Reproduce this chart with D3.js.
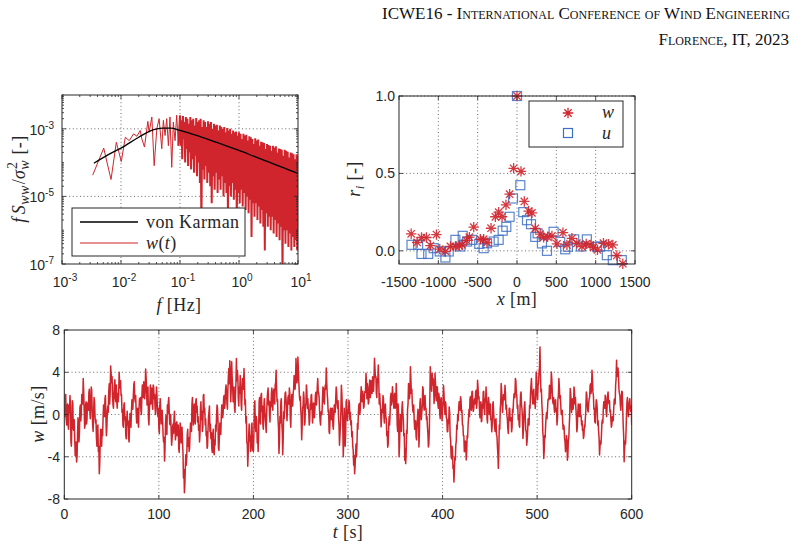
<!DOCTYPE html>
<meta charset="utf-8">
<style>
  body { margin: 0; background: #fff; }
  svg { display: block; }
  .tick-label { font-family: "Liberation Sans", Arial, sans-serif; font-size: 14px; fill: #262626; }
  .math { font-family: "Liberation Serif", "Times New Roman", serif; font-size: 18px; letter-spacing: 0.4px; fill: #262626; }
  .hdr { font-family: "Liberation Serif", "Times New Roman", serif; font-size: 17px; font-variant: small-caps; fill: #111; }
</style>
<script src="https://d3js.org/d3.v7.min.js"></script>
<div id="chart"></div>
<script>
// ---- spectrum of w : low frequencies (log10 f, log10 fS/sigma^2) ----
var specLowLogF = [-2.479,-2.293,-2.169,-2.079,-1.995,-1.927,-1.86,-1.787,-1.73,-1.675,-1.646,-1.602,-1.545,-1.523,-1.477,
  -1.438,-1.393,-1.354,-1.309,-1.282,-1.253,-1.225,-1.197,-1.17,-1.14,-1.113,-1.084,-1.056,-1.028];
var specLowLogS = [-4.37,-3.57,-4.50,-3.40,-3.97,-3.25,-3.35,-3.15,-3.22,-3.05,-3.30,-3.54,-2.78,-3.10,-2.65,
  -4.09,-3.00,-2.70,-3.59,-2.75,-3.20,-2.70,-3.50,-2.65,-4.14,-2.80,-3.35,-2.60,-3.50];
// dense part, sampled every 0.0125 decade from 0.1 Hz to 10 Hz
var specBandLogF0 = -1, specBandStep = 0.0125;
var specBandLogS = [
  -2.6,-3.5,-2.75,-3.9,-2.62,-3.3,-2.8,-4.0,-2.65,-3.6,-2.7,-4.1,-2.85,-3.7,-2.65,-4.2,-2.75,-3.9,-2.7,-4.3,
  -2.9,-3.8,-2.68,-4.4,-2.8,-4.0,-2.75,-4.6,-2.7,-5.9,-2.95,-4.2,-2.75,-4.5,-2.8,-4.1,-2.95,-4.6,-2.78,-4.3,
  -2.85,-4.7,-2.8,-5.2,-3.0,-4.4,-2.85,-4.8,-2.9,-4.3,-2.88,-4.9,-3.05,-4.5,-2.9,-4.8,-2.95,-4.4,-3.0,-5.0,
  -2.95,-4.6,-3.1,-4.9,-2.98,-5.5,-3.05,-4.7,-3.0,-5.0,-3.15,-4.6,-3.05,-5.1,-3.1,-4.8,-3.08,-5.7,-3.2,-4.9,
  -3.1,-5.2,-3.15,-4.8,-3.3,-5.3,-3.15,-4.9,-3.2,-5.4,-3.18,-5.0,-3.35,-5.5,-3.22,-5.1,-3.25,-6.2,-3.3,-5.2,
  -3.45,-5.6,-3.28,-5.2,-3.35,-5.7,-3.32,-5.3,-3.5,-5.8,-3.38,-5.4,-3.4,-5.9,-3.42,-6.6,-3.6,-5.5,-3.45,-5.9,
  -3.48,-5.6,-3.5,-6.0,-3.65,-5.6,-3.5,-6.1,-3.55,-5.7,-3.52,-6.2,-3.7,-5.8,-3.58,-6.3,-3.6,-5.9,-3.62,-7.4,
  -3.8,-6.0,-3.62,-6.4,-3.65,-6.0,-3.68,-6.5,-3.85,-6.1,-3.7,-6.6,-3.72,-6.2,-3.75,-6.5,-3.9,-6.3,-3.75,-6.6,
  -3.8];
// von Karman model
var karmanLogF = [-2.46,-2.2,-2.0,-1.7,-1.5,-1.3,-1.15,-1.0,-0.75,-0.5,-0.25,0,0.25,0.5,0.75,1.0];
var karmanLogS = [-4.02,-3.75,-3.57,-3.25,-3.06,-2.98,-2.98,-3.05,-3.18,-3.33,-3.48,-3.64,-3.81,-3.98,-4.15,-4.32];

// ---- correlation coefficients vs separation ----
var corrXw = [-1345,-1269,-1214,-1151,-1100,-1024,-982,-910,-846,-783,-732,-698,-643,-605,-550,-466,-424,-381,-330,-275,
  -233,-190,-140,-94,-43,0,51,93,148,190,232,296,338,389,444,508,584,635,698,761,825,880,930,973,1023,1099,1163,1218,1269,1345];
var corrRw = [0.110,0.054,0.086,0.086,0.034,0.105,0.011,-0.004,0.028,0.028,0.032,0.039,0.067,0.088,0.153,0.075,0.075,0.054,0.146,0.22,
  0.25,0.22,0.297,0.366,0.533,1.0,0.513,0.319,0.257,0.245,0.145,0.108,0.087,0.091,0.096,0.045,0.117,0.038,0.081,0.049,
  0.028,0.045,0.038,0.023,0.006,0.049,0.043,0.038,-0.03,-0.083];
var corrXu = [-1341,-1257,-1214,-1129,-1058,-982,-910,-868,-783,-719,-690,-634,-571,-480,-424,-381,-297,-233,-182,-136,
  -94,-51,0,42,80,127,178,232,262,317,381,465,550,613,647,727,812,888,1015,1057,1142,1218,1332];
var corrRu = [0.039,0.039,-0.02,-0.02,0.017,-0.004,-0.043,-0.004,0.071,0.028,0.097,0.06,0.071,0.045,0.017,0.049,0.06,0.071,0.13,0.155,
  0.22,0.338,1.0,0.424,0.25,0.198,0.172,0.09,0.113,0.048,0.0,0.123,0.058,0.01,0.026,0.074,0.028,0.074,0.026,0.028,-0.028,-0.06,-0.06];

// ---- vertical wind w(t) [m/s]: values at whole seconds 0..600 ----
var windT0 = 0, windDt = 1;
var windW = [
  0.5,1.8,-0.4,0.6,-1.0,0.9,1.8,-2.6,-0.8,1.0,-1.5,-2.2,-3.5,-4.5,-2.0,-1.0,-1.8,0.9,0.2,1.5,
  3.4,0.5,-1.0,1.2,-0.5,0.6,2.1,0.3,1.0,2.3,-1.0,0.2,1.2,-0.8,-2.3,-1.2,-3.5,-5.6,-2.5,-2.3,
  -1.4,-0.4,0.5,1.5,-0.3,-1.3,0.8,2.1,1.0,4.6,3.0,1.8,0.6,2.8,1.5,2.8,0.6,1.2,4.0,2.5,
  1.8,0.2,-1.0,0.9,-0.5,-1.95,-0.6,-1.0,-2.3,-1.1,-0.4,0.3,0.9,1.8,3.1,1.2,0.25,-0.2,-0.7,0.5,
  1.2,0.4,1.6,2.1,3.1,1.5,4.3,2.2,2.1,-0.4,0.5,2.8,1.7,1.2,2.8,1.5,0.6,1.3,1.8,-0.2,
  -1.3,0.8,0.25,-0.3,-0.7,-2.6,-4.4,-1.0,-1.6,0.9,1.2,0.2,-1.0,-1.6,-2.3,-0.9,-0.4,-1.2,-1.95,-0.7,
  -1.4,-3.2,-2.0,-1.3,-1.9,-2.6,-6.0,-7.4,-5.0,-4.8,-1.95,-3.0,-3.5,-1.8,-1.0,1.0,0.0,0.25,-0.6,1.2,
  0.2,-0.7,-1.5,-2.6,0.6,-0.5,-1.6,1.8,0.2,-1.0,-2.0,-3.2,-1.4,0.25,-1.6,-2.3,-3.2,-2.0,-3.5,-2.4,
  -1.0,-0.2,0.6,-3.2,-2.0,-1.0,-0.3,0.9,0.2,1.8,1.0,2.8,1.0,2.4,4.35,5.1,1.2,5.0,2.8,2.1,
  0.6,1.8,5.3,4.2,1.5,2.6,3.7,1.0,2.1,3.2,4.35,0.9,-0.8,-2.6,-4.9,-1.95,-2.5,-3.5,-1.0,-3.4,
  -3.5,0.9,-1.0,-0.2,-2.7,-3.5,1.2,-0.5,1.8,0.3,-1.0,0.6,0.57,-1.0,0.2,2.1,0.9,-0.06,1.2,1.98,
  1.0,1.98,1.2,2.8,4.2,1.2,-0.5,-3.7,-0.2,1.2,-0.8,-3.8,0.25,1.0,2.14,0.4,0.57,1.8,2.5,-0.4,
  0.9,1.2,2.0,3.7,2.4,5.3,3.0,5.45,3.1,1.35,0.5,-2.4,0.6,2.14,-1.0,0.9,2.8,0.6,0.57,-1.0,
  1.0,1.8,0.5,-0.06,0.9,0.6,2.1,1.4,3.4,2.0,0.25,-1.0,0.3,1.5,2.5,1.0,2.8,4.4,2.0,0.25,
  -1.64,-0.5,0.57,0.2,-1.0,-0.2,0.88,1.5,2.14,0.6,-0.3,-2.9,-1.0,2.77,0.5,-4.0,0.6,-3.0,1.2,0.3,
  0.4,1.36,-0.5,-1.0,-2.1,-3.0,-4.8,-5.6,-3.7,-4.0,-0.85,0.2,1.04,0.5,2.63,1.2,1.68,0.8,2.2,3.9,
  1.5,2.31,1.2,3.26,2.0,2.5,3.58,2.2,5.32,3.5,2.0,3.4,4.68,1.0,1.04,-1.17,0.5,1.8,-0.22,0.6,
  -0.22,-2.0,-3.1,-1.17,-1.0,1.68,0.9,2.63,1.5,1.68,0.6,2.94,-1.0,1.0,-4.0,-1.0,-1.49,0.5,0.09,-2.0,
  -4.34,-4.65,-1.5,0.5,2.94,1.5,4.53,2.0,1.04,0.2,-0.54,-1.0,-2.12,-1.2,0.5,-3.07,1.04,0.3,0.09,2.63,
  1.0,1.68,0.5,-0.5,-1.17,-3.07,-1.5,4.53,2.5,3.9,3.42,1.04,3.9,2.0,2.63,1.04,2.0,0.09,1.36,0.5,
  0.5,2.77,0.8,1.2,-0.3,-1.64,-0.5,0.72,-2.0,-3.84,-3.0,-5.1,-6.4,-4.0,-2.9,-1.0,0.0,0.5,1.2,1.67,
  0.2,-1.0,-2.0,-3.53,-2.5,-4.3,-2.0,-1.0,0.5,1.5,0.6,2.14,0.8,0.57,1.5,2.14,0.6,3.24,1.5,0.57,
  1.0,-0.69,1.0,2.14,0.6,1.5,2.61,-0.38,0.8,1.2,0.5,-0.5,-1.64,0.88,0.2,-1.0,-0.5,-1.95,-3.0,-5.1,
  -1.0,0.5,2.93,1.0,1.2,1.8,2.77,0.5,-0.06,-1.32,-0.5,0.57,-0.5,-1.64,0.5,1.2,2.0,3.4,2.0,0.57,
  -0.5,-1.0,0.8,2.14,0.5,-2.27,0.0,1.2,-1.5,-2.9,-1.5,-1.0,0.88,2.0,3.4,1.5,2.14,1.0,0.57,4.03,
  2.0,2.77,4.0,6.39,2.14,1.0,-1.64,-4.16,-2.0,-1.0,0.2,0.57,1.5,2.77,1.5,4.03,2.14,1.0,0.57,1.2,
  0.3,-1.0,1.5,3.4,1.5,0.88,0.0,-0.69,-1.0,-2.27,-3.53,-2.0,-4.32,-2.5,-1.0,2.46,1.0,1.2,0.5,2.61,
  1.0,0.57,-1.64,0.2,0.5,0.88,-0.2,-1.0,-1.5,-2.27,-1.0,-0.38,2.14,1.0,0.25,1.5,2.77,2.0,4.19,2.14,
  0.5,-0.69,0.5,1.2,-1.0,-1.64,-3.84,-2.5,-1.95,-0.5,0.57,0.9,1.83,0.25,0.8,2.14,1.0,0.25,-0.5,-1.0,
  -0.2,0.57,1.5,2.77,5.13,4.0,3.72,2.0,0.88,1.5,2.14,-1.0,-4.47,-2.5,-1.64,1.2,0.5,0.57,1.5,0.3,
  -1.0];
// values at the half seconds 0.5..599.5 (the fast fluctuation between the samples above)
var windWHalf = [
  -0.2,1.9,-1.0,1.0,-1.4,0.2,0.9,-3.0,1.3,-1.4,-0.5,-3.9,-2.6,-4.0,-0.3,-2.6,0.6,-0.6,1.9,1.0,
  2.2,-1.3,0.9,-0.9,1.1,0.4,2.4,-0.4,2.6,0.2,-1.6,1.6,-0.2,-0.5,-3.0,-1.0,-3.0,-4.6,-1.4,-3.0,
  -2.0,0.9,-0.2,1.8,-2.0,0.3,0.2,2.9,2.0,3.9,3.6,0.9,2.0,3.3,1.2,1.2,2.0,1.9,3.0,3.2,
  1.9,0.5,-1.2,1.1,-0.2,-2.3,0.3,-0.6,-2.6,0.1,-1.2,1.4,0.5,2.8,1.6,1.8,-0.8,0.6,-1.2,1.5,
  1.6,0.0,2.8,1.6,2.9,2.2,3.6,0.9,2.6,-1.0,1.2,1.0,2.5,0.5,2.6,1.9,0.0,2.6,0.4,0.6,
  -1.8,1.5,-0.9,0.4,-2.0,-2.2,-3.2,-0.1,-1.9,0.1,1.6,-0.9,0.0,-2.9,-1.2,-1.8,0.3,-2.4,-0.8,-2.0,
  -1.0,-3.6,-0.8,-2.7,-1.2,-3.6,-5.2,-6.6,-3.8,-3.9,-1.4,-2.2,-3.2,-0.8,-1.6,1.6,-1.0,1.0,-0.9,1.5,
  0.8,-0.2,-1.0,-1.8,1.2,0.3,-1.2,1.9,0.6,-0.4,-1.6,-3.0,-0.2,0.8,-0.9,-1.7,-3.6,-1.4,-3.8,-2.9,
  -1.6,0.9,-0.6,-3.4,-0.8,-1.9,0.9,-0.3,1.6,0.6,2.3,2.2,0.5,3.6,2.9,3.8,2.3,3.5,1.2,2.6,
  0.2,3.0,3.2,3.6,0.8,2.0,2.9,0.4,3.4,2.4,3.0,1.4,-0.2,-2.8,-3.6,-0.9,-2.0,-2.9,-0.8,-2.0,
  -1.8,1.3,-1.6,-0.6,-2.0,-1.6,1.6,-0.9,2.0,0.8,-1.4,1.5,-0.4,-1.7,1.4,2.5,1.3,-0.7,0.7,2.5,
  0.4,2.4,1.0,3.0,2.3,1.4,-1.2,-2.6,-0.8,1.5,-1.6,-2.2,-0.4,2.0,1.4,-0.6,1.6,1.0,2.0,-1.2,
  1.9,0.8,2.4,3.4,3.0,4.0,3.4,4.3,2.0,1.7,-0.2,-1.2,0.8,1.6,-0.8,1.0,2.2,1.5,0.2,-0.6,
  0.5,1.9,-0.8,1.1,-0.3,1.8,0.9,2.6,2.2,1.6,-0.6,0.2,0.0,2.6,1.2,2.2,2.4,3.1,1.4,0.4,
  -1.8,0.6,-0.5,0.6,-1.4,0.9,0.2,2.6,1.0,1.3,-1.0,-2.0,0.4,2.0,-1.2,-2.4,-0.4,-1.8,1.4,-0.6,
  0.1,1.0,0.2,-0.6,-1.6,-3.4,-3.9,-4.9,-2.8,-2.8,-1.4,0.9,0.0,1.8,1.4,2.2,0.6,2.0,2.1,3.1,
  2.9,1.0,2.6,1.6,3.2,2.0,3.2,3.3,4.4,3.6,1.6,3.0,3.4,2.0,0.5,-0.4,0.2,1.5,-0.8,1.0,
  -0.4,-1.6,-2.8,-0.2,0.0,2.0,1.2,2.0,0.6,2.0,0.9,1.6,-1.6,0.0,-3.0,0.0,-1.6,1.2,-0.4,-1.8,
  -3.2,-3.6,-1.8,1.0,2.6,2.0,3.4,2.4,0.4,0.9,-1.4,-0.6,-2.4,-0.2,0.2,-1.8,1.5,-0.5,0.8,2.4,
  0.4,1.8,0.6,-0.2,-1.8,-2.8,1.2,3.4,2.2,2.8,2.9,1.6,3.0,1.3,2.6,0.6,1.6,-0.4,1.6,-0.6,
  1.2,2.0,0.0,1.0,-0.4,-1.6,-0.8,0.2,-2.4,-4.2,-3.4,-4.8,-5.3,-4.3,-2.5,-1.4,-0.6,1.2,0.4,1.4,
  0.4,-1.0,-2.0,-3.4,-2.6,-3.6,-2.2,-0.3,-0.2,1.7,0.4,2.2,0.3,1.4,1.0,2.3,1.2,2.6,1.7,-0.3,
  1.2,-0.6,0.6,2.2,0.0,1.2,1.6,-0.8,1.6,0.0,1.0,-0.4,-1.0,1.2,-0.6,-1.6,-0.4,-2.0,-3.8,-3.4,
  -1.4,1.2,2.2,0.2,1.9,1.4,2.0,0.9,-0.4,-1.8,0.6,-0.6,-0.3,-1.2,0.2,1.9,1.6,3.2,1.8,0.9,
  0.0,-1.2,1.9,0.9,-0.4,-1.6,0.8,-0.4,-1.6,-2.4,-0.4,-1.0,0.6,2.8,2.2,1.0,2.4,1.5,1.6,3.4,
  1.4,3.0,4.5,3.8,2.4,0.2,-2.2,-3.4,-2.2,-0.2,-0.4,1.4,1.4,2.6,2.2,3.4,1.2,1.6,0.2,1.4,
  0.6,-0.4,1.8,2.6,1.8,0.0,0.4,-1.4,-1.2,-2.6,-3.0,-2.4,-3.8,-2.2,0.0,2.0,0.2,1.5,1.0,2.2,
  1.6,-0.2,-1.2,1.0,-0.2,1.0,-0.1,-0.6,-1.4,-2.0,-1.2,0.4,1.9,0.4,1.0,1.6,2.9,2.4,3.5,1.8,
  0.6,-0.8,1.4,0.6,-0.6,-2.2,-3.0,-2.8,-0.8,-0.8,1.2,0.6,1.6,-0.2,1.8,1.2,1.3,0.4,-1.2,-0.2,
  -0.6,1.4,1.0,3.4,3.6,4.4,2.4,1.8,0.4,2.2,0.6,-2.0,-3.2,-2.8,0.0,1.6,-0.2,1.2,0.6,0.8];

var red = "#d0252c", blue = "#3d6fc4", ink = "#262626";

var svg = d3.select("#chart").append("svg")
    .attr("width", 803)
    .attr("height", 550);
svg.append("rect").attr("width", 803).attr("height", 550).attr("fill", "#fff");

// header
svg.append("text").attr("class", "hdr").attr("text-anchor", "end")
  .attr("x", 790).attr("y", 19).text("ICWE16 - International Conference of Wind Engineering");
svg.append("text").attr("class", "hdr").attr("text-anchor", "end")
  .attr("x", 789).attr("y", 45).text("Florence, IT, 2023");

// helpers
function grid(xs, ys, box, xv, yv) {
  var g = svg.append("g").attr("stroke", ink).attr("stroke-width", 0.8).attr("stroke-dasharray", "1,2.6").attr("opacity", 0.85);
  g.selectAll(null).data(xv).enter().append("line")
    .attr("x1", d => xs(d)).attr("x2", d => xs(d))
    .attr("y1", box.y).attr("y2", box.y + box.h);
  g.selectAll(null).data(yv).enter().append("line")
    .attr("y1", d => ys(d)).attr("y2", d => ys(d))
    .attr("x1", box.x).attr("x2", box.x + box.w);
}
function ticks(xs, ys, box, xv, yv, len) {
  var g = svg.append("g").attr("stroke", ink).attr("stroke-width", 0.8);
  [box.y + box.h, box.y].forEach(function(y0, k) {
    g.selectAll(null).data(xv).enter().append("line")
      .attr("x1", d => xs(d)).attr("x2", d => xs(d))
      .attr("y1", y0).attr("y2", k ? y0 + len : y0 - len);
  });
  [box.x, box.x + box.w].forEach(function(x0, k) {
    g.selectAll(null).data(yv).enter().append("line")
      .attr("y1", d => ys(d)).attr("y2", d => ys(d))
      .attr("x1", x0).attr("x2", k ? x0 - len : x0 + len);
  });
}
function frame(box) {
  svg.append("rect").attr("x", box.x).attr("y", box.y).attr("width", box.w).attr("height", box.h)
    .attr("fill", "none").attr("stroke", ink).attr("stroke-width", 1);
}
function clip(id, box) {
  svg.append("clipPath").attr("id", id).append("rect")
    .attr("x", box.x).attr("y", box.y).attr("width", box.w).attr("height", box.h);
}
function pow10Label(sel, e) {
  sel.append("tspan").text("10");
  sel.append("tspan").attr("dy", -6).attr("font-size", "10px").text(e);
}

// ================= spectrum panel =================
var b1 = {x: 62, y: 95, w: 236, h: 169};
var x1 = d3.scaleLog().domain([1e-3, 1e1]).range([b1.x, b1.x + b1.w]);
var y1 = d3.scaleLog().domain([1e-7, 1e-2]).range([b1.y + b1.h, b1.y]);

var specLow = specLowLogF.map((lf, i) => ({f: Math.pow(10, lf), s: Math.pow(10, specLowLogS[i])}));
var specBand = specBandLogS.map((ls, i) => ({f: Math.pow(10, specBandLogF0 + i * specBandStep), s: Math.pow(10, ls)}));
specBand.unshift(specLow[specLow.length - 1]);
var karman = karmanLogF.map((lf, i) => ({f: Math.pow(10, lf), s: Math.pow(10, karmanLogS[i])}));
var specLine = d3.line().x(d => x1(d.f)).y(d => y1(d.s));

grid(x1, y1, b1, [1e-2, 1e-1, 1e0], [1e-5, 1e-3]);
clip("clip1", b1);
svg.append("path").datum(specLow)
  .attr("clip-path", "url(#clip1)")
  .attr("fill", "none").attr("stroke", red).attr("stroke-width", 1)
  .attr("d", specLine);
svg.append("path").datum(specBand)
  .attr("clip-path", "url(#clip1)")
  .attr("fill", "none").attr("stroke", red).attr("stroke-width", 2)
  .attr("d", specLine);
svg.append("path").datum(karman)
  .attr("fill", "none").attr("stroke", "#000").attr("stroke-width", 1.3)
  .attr("d", d3.line().curve(d3.curveMonotoneX).x(d => x1(d.f)).y(d => y1(d.s)));
frame(b1);

var decX = [1e-3, 1e-2, 1e-1, 1e0, 1e1];
var minX = [];
decX.slice(0, 4).forEach(d => { for (var k = 2; k < 10; k++) minX.push(d * k); });
var decY = [1e-7, 1e-6, 1e-5, 1e-4, 1e-3, 1e-2];
var minY = [];
decY.slice(0, 5).forEach(d => { for (var k = 2; k < 10; k++) minY.push(d * k); });
ticks(x1, y1, b1, decX, [1e-7, 1e-5, 1e-3], 4);
ticks(x1, y1, b1, minX, minY.concat([1e-6, 1e-4, 1e-2]), 2);

svg.selectAll(null).data([-3, -2, -1, 0, 1]).enter().append("text")
  .attr("class", "tick-label").attr("text-anchor", "middle")
  .attr("x", d => x1(Math.pow(10, d)) + 3).attr("y", 287)
  .each(function(d) { pow10Label(d3.select(this), d); });
svg.selectAll(null).data([-7, -5, -3]).enter().append("text")
  .attr("class", "tick-label").attr("text-anchor", "end")
  .attr("x", 54).attr("y", d => y1(Math.pow(10, d)) + 6)
  .each(function(d) { pow10Label(d3.select(this), d); });

// axis labels
var xl1 = svg.append("text").attr("class", "math").attr("text-anchor", "middle").attr("x", 179).attr("y", 311);
xl1.append("tspan").attr("font-style", "italic").text("f");
xl1.append("tspan").text(" [Hz]");
var yl1 = svg.append("text").attr("class", "math").attr("font-size", "20px").attr("letter-spacing", "1px")
  .attr("text-anchor", "middle")
  .attr("transform", "translate(25,179) rotate(-90)");
yl1.append("tspan").attr("font-style", "italic").text("f");
yl1.append("tspan").attr("font-style", "italic").attr("dx", 3).text("S");
yl1.append("tspan").attr("font-style", "italic").attr("font-size", "14px").attr("dy", 4).text("ww");
yl1.append("tspan").attr("dy", -4).attr("dx", 1).text("/");
yl1.append("tspan").attr("font-style", "italic").text("σ");
yl1.append("tspan").attr("font-style", "italic").attr("font-size", "14px").attr("dy", 4).text("w");
yl1.append("tspan").attr("font-size", "14px").attr("dx", -9).attr("dy", -12).text("2");
yl1.append("tspan").attr("dy", 8).attr("dx", 7).text("[-]");

// legend
svg.append("rect").attr("x", 72).attr("y", 208).attr("width", 173).attr("height", 48)
  .attr("fill", "#fff").attr("stroke", ink).attr("stroke-width", 1);
svg.append("line").attr("x1", 80).attr("x2", 138).attr("y1", 222).attr("y2", 222).attr("stroke", "#000").attr("stroke-width", 1.3);
svg.append("line").attr("x1", 80).attr("x2", 138).attr("y1", 243).attr("y2", 243).attr("stroke", red).attr("stroke-width", 1.1);
svg.append("text").attr("class", "math").attr("x", 146).attr("y", 228).text("von Karman");
var lw = svg.append("text").attr("class", "math").attr("x", 146).attr("y", 249);
lw.append("tspan").attr("font-style", "italic").text("w");
lw.append("tspan").text("(");
lw.append("tspan").attr("font-style", "italic").text("t");
lw.append("tspan").text(")");

// ================= correlation panel =================
var b2 = {x: 399, y: 96, w: 236, h: 168};
var x2 = d3.scaleLinear().domain([-1500, 1500]).range([b2.x, b2.x + b2.w]);
var y2 = d3.scaleLinear().domain([-0.085, 1]).range([b2.y + b2.h, b2.y]);

grid(x2, y2, b2, [-1000, -500, 0, 500, 1000], [0, 0.5, 1]);
var starPath = (function(r) {
  var a = r * 0.7071;
  return "M" + (-r) + ",0L" + r + ",0M0," + (-r) + "L0," + r +
         "M" + (-a) + "," + (-a) + "L" + a + "," + a + "M" + (-a) + "," + a + "L" + a + "," + (-a);
})(5.2);

svg.append("g").selectAll("rect").data(corrXu.map((x, i) => ({x: x, r: corrRu[i]}))).enter().append("rect")
  .attr("x", d => x2(d.x) - 4.5).attr("y", d => y2(d.r) - 4.5)
  .attr("width", 9).attr("height", 9)
  .attr("fill", "none").attr("stroke", blue).attr("stroke-width", 1.2).attr("stroke-opacity", 0.85);
svg.append("g").selectAll("path").data(corrXw.map((x, i) => ({x: x, r: corrRw[i]}))).enter().append("path")
  .attr("transform", d => "translate(" + x2(d.x) + "," + y2(d.r) + ")")
  .attr("d", starPath)
  .attr("fill", "none").attr("stroke", red).attr("stroke-width", 1.3).attr("stroke-opacity", 0.9);
frame(b2);
ticks(x2, y2, b2, [-1500, -1000, -500, 0, 500, 1000, 1500], [0, 0.5, 1], 4);

svg.selectAll(null).data([-1500, -1000, -500, 0, 500, 1000, 1500]).enter().append("text")
  .attr("class", "tick-label").attr("text-anchor", "middle")
  .attr("x", d => x2(d)).attr("y", 287).text(d => d);
svg.selectAll(null).data([0, 0.5, 1]).enter().append("text")
  .attr("class", "tick-label").attr("text-anchor", "end")
  .attr("x", 395).attr("y", d => y2(d) + 5).text(d => d3.format(".1f")(d));

var xl2 = svg.append("text").attr("class", "math").attr("text-anchor", "middle").attr("x", 517).attr("y", 305);
xl2.append("tspan").attr("font-style", "italic").text("x");
xl2.append("tspan").text(" [m]");
var yl2 = svg.append("text").attr("class", "math").attr("font-size", "19px").attr("text-anchor", "middle")
  .attr("transform", "translate(360,179) rotate(-90)");
yl2.append("tspan").attr("font-style", "italic").text("r");
yl2.append("tspan").attr("font-style", "italic").attr("font-size", "13px").attr("dy", 4).text("i");
yl2.append("tspan").attr("dy", -4).text(" [-]");

svg.append("rect").attr("x", 529).attr("y", 101).attr("width", 94).attr("height", 46)
  .attr("fill", "#fff").attr("stroke", ink).attr("stroke-width", 1);
svg.append("path").attr("transform", "translate(568,113)").attr("d", starPath)
  .attr("fill", "none").attr("stroke", red).attr("stroke-width", 1.3);
svg.append("rect").attr("x", 563.5).attr("y", 128.5).attr("width", 9).attr("height", 9)
  .attr("fill", "none").attr("stroke", blue).attr("stroke-width", 1.2);
svg.append("text").attr("class", "math").attr("font-style", "italic").attr("x", 602).attr("y", 118).text("w");
svg.append("text").attr("class", "math").attr("font-style", "italic").attr("x", 602).attr("y", 139).text("u");

// ================= time series panel =================
var b3 = {x: 64.3, y: 330, w: 567.4, h: 169};
var x3 = d3.scaleLinear().domain([0, 600]).range([b3.x, b3.x + b3.w]);
var y3 = d3.scaleLinear().domain([-8, 8]).range([b3.y + b3.h, b3.y]);

var wind = [];
windW.forEach(function(w, i) {
  wind.push({t: windT0 + i * windDt, w: w});
  if (i < windWHalf.length) wind.push({t: windT0 + (i + 0.5) * windDt, w: windWHalf[i]});
});

grid(x3, y3, b3, [100, 200, 300, 400, 500], [-4, 0, 4]);
clip("clip3", b3);
svg.append("path").datum(wind)
  .attr("clip-path", "url(#clip3)")
  .attr("fill", "none").attr("stroke", red).attr("stroke-width", 1.5).attr("stroke-linejoin", "round")
  .attr("d", d3.line().x(d => x3(d.t)).y(d => y3(d.w)));
frame(b3);
ticks(x3, y3, b3, [0, 100, 200, 300, 400, 500, 600], [-8, -4, 0, 4, 8], 4);

svg.selectAll(null).data([0, 100, 200, 300, 400, 500, 600]).enter().append("text")
  .attr("class", "tick-label").attr("text-anchor", "middle")
  .attr("x", d => x3(d)).attr("y", 519).text(d => d);
svg.selectAll(null).data([-8, -4, 0, 4, 8]).enter().append("text")
  .attr("class", "tick-label").attr("text-anchor", "end")
  .attr("x", 60).attr("y", d => y3(d) + 5).text(d => d);

var xl3 = svg.append("text").attr("class", "math").attr("text-anchor", "middle").attr("x", 348).attr("y", 538);
xl3.append("tspan").attr("font-style", "italic").text("t");
xl3.append("tspan").text(" [s]");
var yl3 = svg.append("text").attr("class", "math").attr("font-size", "19px").attr("text-anchor", "middle")
  .attr("transform", "translate(44,414) rotate(-90)");
yl3.append("tspan").attr("font-style", "italic").text("w");
yl3.append("tspan").text(" [m/s]");
</script>
